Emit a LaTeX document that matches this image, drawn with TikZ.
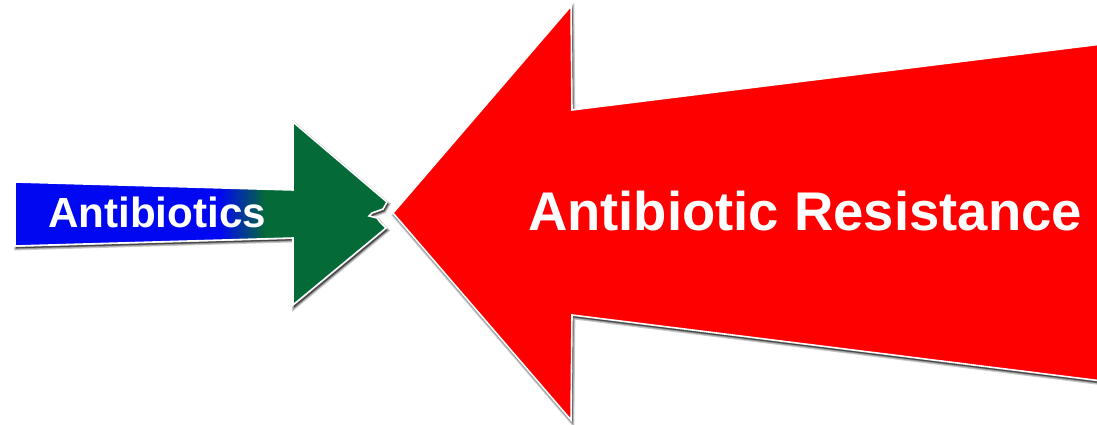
\documentclass[tikz,border=0pt]{standalone}
\usepackage{fontspec}
\setsansfont{Liberation Sans}
\definecolor{abblue}{HTML}{0008F2}
\definecolor{abgreen}{HTML}{046A38}
\definecolor{abred}{HTML}{FF0000}
\pgfdeclarehorizontalshading{abshaft}{100bp}{color(0bp)=(abblue); color(62bp)=(abblue); color(70bp)=(abgreen); color(100bp)=(abgreen)}
\tikzset{
  shd/.style={preaction={draw=black, line width=#1, opacity=0.22, fill=black,
    transform canvas={shift={(0.7pt,-1.3pt)}}}},
  arrowbody/.style={draw=white, line width=0.9pt, line join=miter,
    shd=2.4pt, shd=1.2pt, shd=0.2pt},
  lbl/.style={font=\sffamily\bfseries, text=white, inner sep=0pt, anchor=base},
}
\begin{document}
\begin{tikzpicture}[x=0.02cm, y=-0.02cm]
  \useasboundingbox (0,0) rectangle (1097,425);
  % big arrow, pointing left
  \fill[abred, arrowbody] (393,213) -- (571,6) -- (572,110) -- (1110,43) -- (1110,382)
    -- (572,315) -- (571,420) -- cycle;
  % small arrow, pointing right
  \fill[abgreen, arrowbody] (15,182) -- (293,190) -- (293,122) -- (387,202) -- (383,209)
    -- (372,213) -- (369,216) -- (377,218) -- (380,222) -- (386,228) -- (293,305)
    -- (293,238) -- (15,246) -- cycle;
  \shade[shading=abshaft] (15,182) -- (293,190) -- (293,238) -- (15,246) -- cycle;
  \draw[white, line width=0.9pt] (293,190) -- (15,182) -- (15,246) -- (293,238);
  % labels
  \node[lbl, font=\sffamily\bfseries\fontsize{24}{28}\selectfont] (abx) at (157,228) {Antibiotics};
  \node[lbl, font=\sffamily\bfseries\fontsize{31}{36}\selectfont] (res) at (805,231) {Antibiotic Resistance};
\end{tikzpicture}
\end{document}
